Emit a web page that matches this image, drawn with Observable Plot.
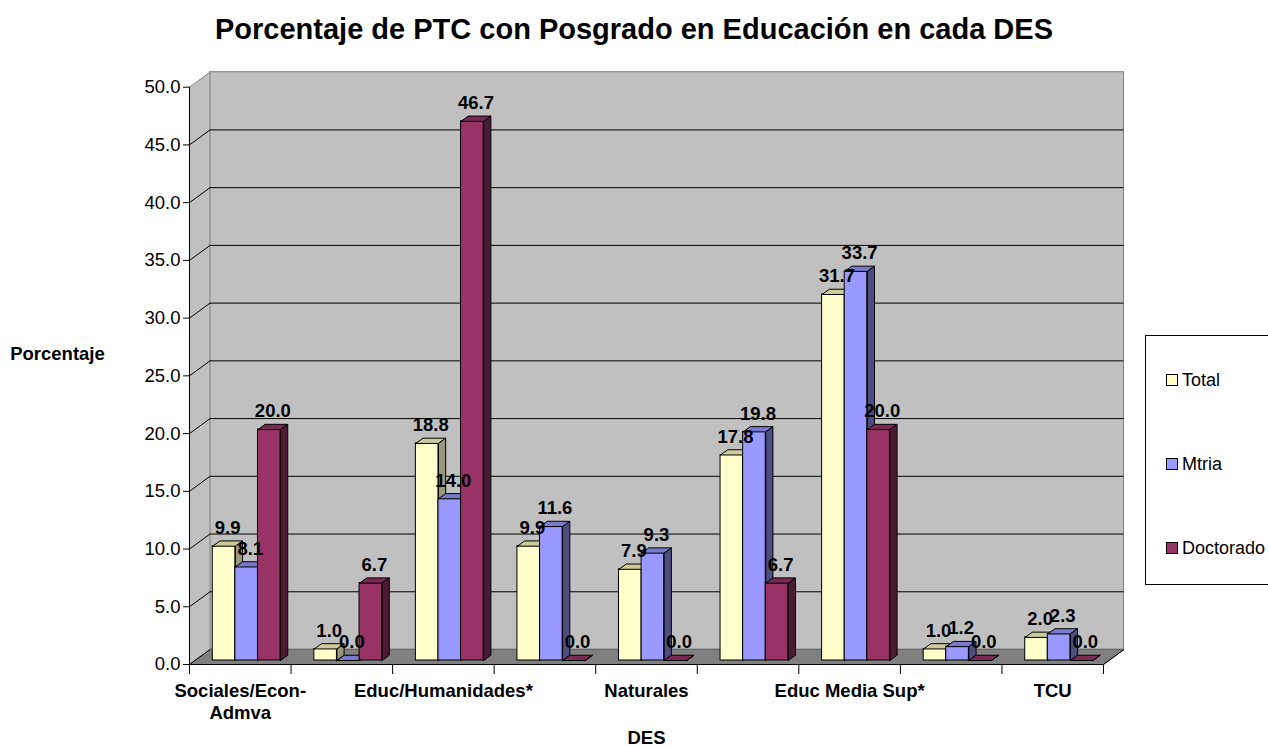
<!DOCTYPE html>
<html>
<head>
<meta charset="utf-8">
<script src="https://cdn.jsdelivr.net/npm/d3@7"></script>
<script src="https://cdn.jsdelivr.net/npm/@observablehq/plot@0.6"></script>
<style>
  html, body { margin: 0; padding: 0; background: #ffffff; }
  body { width: 1268px; height: 746px; overflow: hidden; position: relative; font-family: "Liberation Sans", Arial, sans-serif; }
  #title { height: 56px; line-height: 58px; text-align: center; font-weight: bold; font-size: 29px; color: #000; white-space: nowrap; }
  #chart svg { display: block; }
  #legend { position: absolute; left: 1145px; top: 335px; width: 150px; height: 250px; border: 1px solid #000; background: #fff; box-sizing: border-box; }
  .item { position: absolute; left: 20px; display: flex; align-items: center; font-size: 18px; color: #000; height: 20px; margin-top: -10px; }
  .sw { width: 10px; height: 10px; border: 1px solid #000; margin-right: 4px; }
</style>
</head>
<body>
<div id="title"></div>
<div id="chart"></div>
<div id="legend"></div>
<script>
// ---------------- data ----------------
const titleText = "Porcentaje de PTC con Posgrado en Educación en cada DES";
const xTitle = "DES";
const yTitle = "Porcentaje";
// only every other category name is shown on the axis of the reference
const categories = ["Sociales/Econ-Admva", "", "Educ/Humanidades*", "", "Naturales", "", "Educ Media Sup*", "", "TCU"];
const seriesNames = ["Total", "Mtria", "Doctorado"];
const total     = [9.9, 1.0, 18.8, 9.9, 7.9, 17.8, 31.7, 1.0, 2.0];
const mtria     = [8.1, 0.0, 14.0, 11.6, 9.3, 19.8, 33.7, 1.2, 2.3];
const doctorado = [20.0, 6.7, 46.7, 0.0, 0.0, 6.7, 20.0, 0.0, 0.0];
const yTicks = [0, 5, 10, 15, 20, 25, 30, 35, 40, 45, 50];

// ---------------- style / layout ----------------
const colors = {
  Total:     {front: "#ffffcc", top: "#cccc99", side: "#99997a"},
  Mtria:     {front: "#9999ff", top: "#7a7acc", side: "#4d4d80"},
  Doctorado: {front: "#993366", top: "#7a2952", side: "#4d1a33"}
};
const W = 1268, H = 690;
const mL = 189, mR = 165, mT = 30.7, mB = 82;
const nCat = categories.length;
const yMax = 50;
const xUnit = (W - mL - mR) / nCat;       // px per category
const yUnit = (H - mT - mB) / yMax;       // px per percent
const DX = 20.5 / xUnit;                  // depth of the box, in data units
const DY = 15 / yUnit;
const d0 = 0.267, dBar = 0.35, d1 = d0 + dBar; // bar depth (fraction of box depth)
const barBase = 17.8 / xUnit;             // left offset of first bar in a category
const barW = 22.6 / xUnit;                // bar width
const P = (x, v, d) => ({x: x + d * DX, y: v + d * DY});

const seriesValues = [total, mtria, doctorado];
const rows = [];
seriesNames.forEach((s, si) => {
  seriesValues[si].forEach((v, i) => {
    const xl = i + barBase + si * barW;
    rows.push({s, si, i, v, xl, xr: xl + barW});
  });
});

function poly(list, fn) {
  const out = [];
  list.forEach((r, k) => fn(r).forEach(p => out.push({...p, id: k})));
  return out;
}

const marks = [];
// back wall
marks.push(Plot.rect([0], {x1: () => DX, x2: () => nCat + DX, y1: () => DY, y2: () => yMax + DY, fill: "#c0c0c0", stroke: "#808080", strokeWidth: 1}));
// left wall
marks.push(Plot.line([P(0,0,0), P(0,yMax,0), P(0,yMax,1), P(0,0,1), P(0,0,0)], {x: "x", y: "y", fill: "#c0c0c0", stroke: "#808080", strokeWidth: 1, curve: "linear"}));
// floor
marks.push(Plot.line([P(0,0,0), P(nCat,0,0), P(nCat,0,1), P(0,0,1), P(0,0,0)], {x: "x", y: "y", fill: "#808080", stroke: "#6a6a6a", strokeWidth: 1, curve: "linear"}));
// gridlines on back wall and side wall
const inner = yTicks.filter(t => t > 0 && t < yMax);
marks.push(Plot.ruleY(inner, {y: t => t + DY, x1: () => DX, x2: () => nCat + DX, stroke: "#000", strokeWidth: 1}));
marks.push(Plot.link(yTicks.filter(t => t < yMax), {x1: () => 0, y1: t => t, x2: () => DX, y2: t => t + DY, stroke: "#000", strokeWidth: 1}));
// floor right edge
marks.push(Plot.link([0], {x1: () => nCat, y1: () => 0, x2: () => nCat + DX, y2: () => DY, stroke: "#000", strokeWidth: 1}));
// axis lines
marks.push(Plot.ruleX([0], {y1: 0, y2: yMax, stroke: "#000", strokeWidth: 1}));
marks.push(Plot.ruleY([0], {x1: 0, x2: nCat, stroke: "#000", strokeWidth: 1}));

// bars: front, top, side per series (drawn left to right for correct overlap)
seriesNames.forEach(s => {
  const rs = rows.filter(r => r.s === s);
  const c = colors[s];
  marks.push(Plot.rect(rs, {
    x1: r => r.xl + d0 * DX, x2: r => r.xr + d0 * DX,
    y1: () => d0 * DY, y2: r => r.v + d0 * DY,
    fill: c.front, stroke: "#000", strokeWidth: 1
  }));
  marks.push(Plot.line(poly(rs, r => [P(r.xl, r.v, d0), P(r.xr, r.v, d0), P(r.xr, r.v, d1), P(r.xl, r.v, d1), P(r.xl, r.v, d0)]),
    {x: "x", y: "y", z: "id", fill: c.top, stroke: "#000", strokeWidth: 1, curve: "linear"}));
  marks.push(Plot.line(poly(rs, r => [P(r.xr, 0, d0), P(r.xr, r.v, d0), P(r.xr, r.v, d1), P(r.xr, 0, d1), P(r.xr, 0, d0)]),
    {x: "x", y: "y", z: "id", fill: c.side, stroke: "#000", strokeWidth: 1, curve: "linear"}));
});

// value labels
marks.push(Plot.text(rows, {
  x: r => r.xl + barW / 2 + (d0 + dBar / 2) * DX,
  y: r => r.v + d1 * DY,
  text: r => r.v.toFixed(1),
  dy: -13, lineAnchor: "middle", textAnchor: "middle",
  fontWeight: "bold", fontSize: 18.5, fill: "#000"
}));

// axes
marks.push(Plot.axisY({ticks: yTicks, tickFormat: d => d.toFixed(1), tickSize: 6, tickPadding: 3, label: null, fontSize: 18.5}));
marks.push(Plot.axisX({ticks: d3.range(0, nCat + 1), tickSize: 10, tickFormat: () => "", label: null}));
const labelled = categories.map((c, i) => i).filter(i => categories[i] !== "");
marks.push(Plot.axisX({
  ticks: labelled.map(i => i + 0.5), tickSize: 0, tickPadding: 17,
  tickFormat: d => categories[Math.floor(d)].replace("-", "-\n"),
  fontWeight: "bold", fontSize: 18.5, lineHeight: 1.2, label: null
}));
// axis titles
marks.push(Plot.text([yTitle], {frameAnchor: "left", dx: -132, dy: -22, fontWeight: "bold", fontSize: 18.5, textAnchor: "middle"}));
marks.push(Plot.text([xTitle], {frameAnchor: "bottom", dy: 74, fontWeight: "bold", fontSize: 18.5, textAnchor: "middle", lineAnchor: "middle"}));

const chart = Plot.plot({
  width: W, height: H,
  marginLeft: mL, marginRight: mR, marginTop: mT, marginBottom: mB,
  x: {type: "linear", domain: [0, nCat]},
  y: {type: "linear", domain: [0, yMax]},
  style: {fontFamily: '"Liberation Sans", Arial, sans-serif', fontSize: "18px", color: "#000", background: "#fff", overflow: "visible"},
  marks
});
document.getElementById("title").textContent = titleText;
document.getElementById("chart").appendChild(chart);

// legend
const legend = document.getElementById("legend");
const legendY = [44, 128, 212];
seriesNames.forEach((s, k) => {
  const it = document.createElement("div");
  it.className = "item";
  it.style.top = legendY[k] + "px";
  const sw = document.createElement("span");
  sw.className = "sw";
  sw.style.background = colors[s].front;
  const tx = document.createElement("span");
  tx.textContent = s;
  it.appendChild(sw); it.appendChild(tx);
  legend.appendChild(it);
});
</script>
</body>
</html>
